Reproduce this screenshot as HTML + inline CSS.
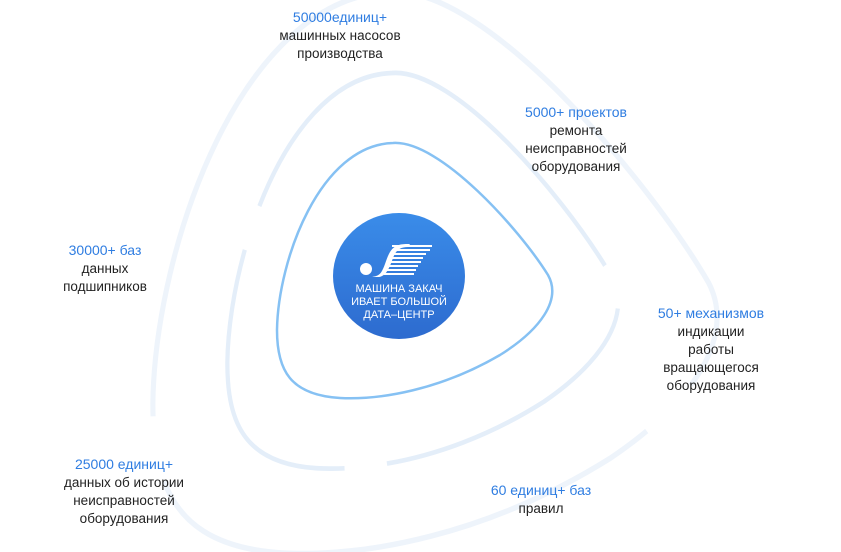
<!DOCTYPE html>
<html><head><meta charset="utf-8"><style>
body{margin:0;width:841px;height:552px;background:#fff;overflow:hidden;position:relative;font-family:"Liberation Sans",sans-serif}
.t{position:absolute;text-align:center;font-size:13.5px;line-height:18px;color:#222;white-space:nowrap;transform:translateX(-50%)}
.t b{font-weight:normal;color:#2f7de1;font-size:14px}
svg{position:absolute;left:0;top:0}
</style></head><body>
<svg width="841" height="552" viewBox="0 0 841 552">
<defs>
<path id="tri" d="M393,143 C440,140 520,230 548,275 C562,300 540,330 500,355 C440,390 380,400 340,398 C290,395 277,370 277,330 C278,260 320,145 393,143 Z"/>
<linearGradient id="g" x1="0" y1="0" x2="0" y2="1"><stop offset="0" stop-color="#3a8ce9"/><stop offset="1" stop-color="#2d6bcf"/></linearGradient>
</defs>
<g transform="translate(405,300) scale(2.05,2.2) translate(-400,-283)">
<use href="#tri" fill="none" stroke="#eef4fb" stroke-width="2.5" vector-effect="non-scaling-stroke" stroke-dasharray="260 30"/>
</g>
<g transform="translate(402,290) scale(1.42,1.55) translate(-400,-283)">
<use href="#tri" fill="none" stroke="#e4eef9" stroke-width="3" vector-effect="non-scaling-stroke" stroke-dasharray="200 30"/>
</g>
<use href="#tri" fill="none" stroke="#86c1f3" stroke-width="2.5"/>
<ellipse cx="399" cy="276" rx="66" ry="63" fill="url(#g)"/>
<g fill="#fff">
<circle cx="366" cy="269" r="6"/>
<path d="M372,276 C384,278 384,262 390,252 C395,244 402,244 410,244 L408,247 C400,247 396,250 393,258 C388,272 384,280 372,276 Z"/>
<rect x="392" y="245" width="40" height="2"/><rect x="392" y="249" width="38" height="2"/><rect x="390" y="253" width="36" height="2"/><rect x="389" y="257" width="34" height="2"/><rect x="388" y="261" width="33" height="2"/><rect x="386" y="265" width="32" height="2"/><rect x="385" y="269" width="31" height="2"/><rect x="384" y="273" width="30" height="2"/>
</g>
<text x="399" y="292" fill="#fff" font-size="11" text-anchor="middle" font-family="Liberation Sans">МАШИНА ЗАКАЧ</text>
<text x="399" y="305" fill="#fff" font-size="11" text-anchor="middle" font-family="Liberation Sans">ИВАЕТ БОЛЬШОЙ</text>
<text x="399" y="318" fill="#fff" font-size="11" text-anchor="middle" font-family="Liberation Sans">ДАТА–ЦЕНТР</text>
</svg>
<div class="t" style="left:340px;top:8px"><b>50000единиц+</b><br>машинных насосов<br>производства</div>
<div class="t" style="left:576px;top:103px"><b>5000+ проектов</b><br>ремонта<br>неисправностей<br>оборудования</div>
<div class="t" style="left:105px;top:241px"><b>30000+ баз</b><br>данных<br>подшипников</div>
<div class="t" style="left:711px;top:304px"><b>50+ механизмов</b><br>индикации<br>работы<br>вращающегося<br>оборудования</div>
<div class="t" style="left:124px;top:455px"><b>25000 единиц+</b><br>данных об истории<br>неисправностей<br>оборудования</div>
<div class="t" style="left:541px;top:481px"><b>60 единиц+ баз</b><br>правил</div>
</body></html>
